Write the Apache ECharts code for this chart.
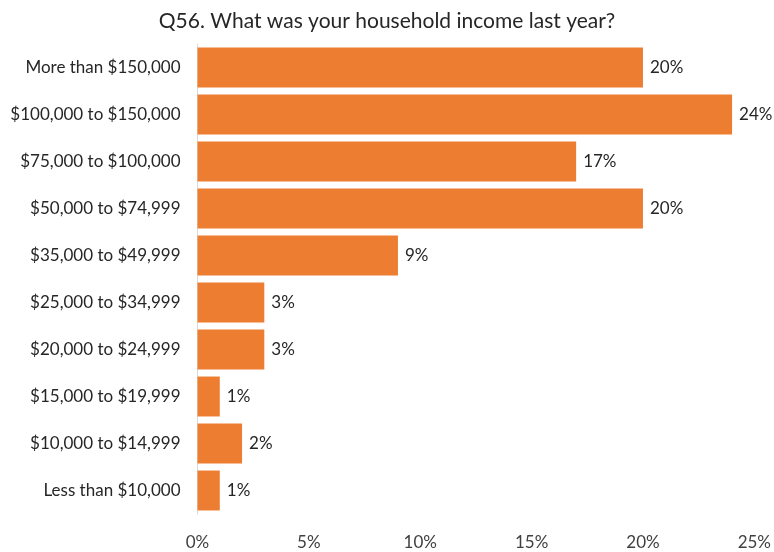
<!DOCTYPE html>
<html>
<head>
<meta charset="utf-8">
<title>Household income</title>
<script src="https://cdn.jsdelivr.net/npm/echarts@6/dist/echarts.min.js"></script>
<style>
  html, body { margin: 0; padding: 0; background: #fff; }
  #chart { width: 774px; height: 552px; }
</style>
</head>
<body>
<div id="chart"></div>
<script>
// Income brackets, top to bottom
const categories = [
  'More than $150,000',
  '$100,000 to $150,000',
  '$75,000 to $100,000',
  '$50,000 to $74,999',
  '$35,000 to $49,999',
  '$25,000 to $34,999',
  '$20,000 to $24,999',
  '$15,000 to $19,999',
  '$10,000 to $14,999',
  'Less than $10,000'
];
// Share of respondents, percent
const shares = [20, 24, 17, 20, 9, 3, 3, 1, 2, 1];
// Horizontal axis ticks
const axisMin = 0;
const axisMax = 25;
const axisStep = 5;

const FONT = 'Lato, "Open Sans", sans-serif';
const chart = echarts.init(document.getElementById('chart'));

chart.setOption({
  animation: false,
  title: {
    text: 'Q56. What was your household income last year?',
    left: 'center',
    top: 6,
    textStyle: { fontFamily: FONT, fontSize: 21, fontWeight: 'normal', color: '#262626' }
  },
  grid: { left: 197.5, right: 16.5, top: 44, bottom: 38, containLabel: false },
  xAxis: {
    type: 'value',
    min: axisMin,
    max: axisMax,
    interval: axisStep,
    axisLine: { show: false },
    axisTick: { show: false },
    splitLine: { show: false },
    axisLabel: {
      margin: 20,
      formatter: v => v + '%',
      fontFamily: FONT, fontSize: 17, color: '#404040'
    }
  },
  yAxis: {
    type: 'category',
    data: categories,
    inverse: true,
    axisLine: { show: true, lineStyle: { color: '#d9d9d9', width: 1 } },
    axisTick: { show: false },
    axisLabel: { margin: 17, fontFamily: FONT, fontSize: 17, color: '#262626' }
  },
  series: [{
    type: 'bar',
    data: shares,
    barCategoryGap: '15%',
    itemStyle: { color: '#ED7D31' },
    label: {
      show: true,
      position: 'right',
      distance: 7,
      formatter: p => p.value + '%',
      fontFamily: FONT, fontSize: 17, color: '#262626'
    }
  }]
});
</script>
</body>
</html>
